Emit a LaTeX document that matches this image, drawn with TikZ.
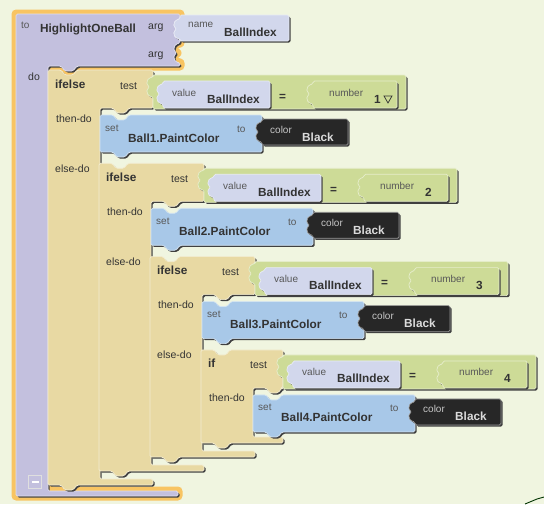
\documentclass[tikz,border=0pt]{standalone}
\usepackage{fontspec}
\setmainfont{Liberation Sans}
\usepackage{tikz}

\definecolor{bgC}{HTML}{F0F5E0}
\definecolor{haloC}{HTML}{F8C462}
\definecolor{procC}{HTML}{C3C0DE}
\definecolor{ctrlC}{HTML}{E8D9A3}
\definecolor{testC}{HTML}{CDDB97}
\definecolor{varC}{HTML}{D2D7EC}
\definecolor{setC}{HTML}{A8C8E8}
\definecolor{colorC}{HTML}{272727}
\definecolor{labC}{HTML}{333333}
\definecolor{tagC}{HTML}{585858}

\tikzset{
  notchin/.style={insert path={-- ++(13,0) -- ++(4,5) -- ++(8,0) -- ++(4,-5)}},
  tabout/.style={insert path={-- ++(-4,5) -- ++(-8,0) -- ++(-4,-5)}},
  plugL/.style={insert path={-- ++(-4,-1) -- ++(-2,-3) -- ++(0,-4) -- ++(3,-2) -- ++(-3,-2) -- ++(0,-4) -- ++(2,-3) -- ++(4,-1)}},
  sockR/.style={insert path={-- ++(-4,1) -- ++(-2,3) -- ++(0,4) -- ++(3,2) -- ++(-3,2) -- ++(0,4) -- ++(2,3) -- ++(4,1)}},
  lbl/.style={anchor=base west, inner sep=0pt, font=\fontsize{10.5}{12}\selectfont, text=labC},
  tag/.style={anchor=base west, inner sep=0pt, font=\fontsize{10}{12}\selectfont, text=tagC},
  ident/.style={anchor=base west, inner sep=0pt, font=\bfseries\fontsize{11.8}{13}\selectfont, text=labC},
  halo/.style={fill=haloC, draw=haloC, line width=9pt, line join=round},
}

% block outline with a dark drop edge
\newcommand{\piece}[3][]{%
  \path[#1] #3;
  \fill[black!75, rounded corners=1.5pt, shift={(1.6,1.6)}] #3;
  \filldraw[fill=#2, draw=#2!50!white, line width=0.7pt, rounded corners=1.5pt] #3;}

\begin{document}
\begin{tikzpicture}[x=1pt, y=-1pt]
    \fill[bgC] (0,0) rectangle (544,504);
    \useasboundingbox (0,0) rectangle (544,504);

    % procedure
    \piece[halo]{procC}{(16,14) -- (180,14) -- (180,19) [sockR] -- (180,43) [sockR] -- (180,66) -- (77,66) [tabout] -- (48,66) -- (48,491) -- (178,491) -- (178,496) -- (16,496) -- cycle}
    \node[tag] (totag) at (21,28.5) {to};
    \node[ident] (procname) at (40,32) {HighlightOneBall};
    \node[lbl] (arg1) at (148,29) {arg};
    \node[lbl] (arg2) at (148,57) {arg};
    \node[lbl] (dolbl) at (28,80) {do};

    \piece{varC}{(180,41) -- (180,39) [plugL] -- (180,15) -- (289,15) -- (289,41) -- cycle}
    \node[tag] (argtag) at (188,27) {name};
    \node[ident] (argname) at (224,36) {BallIndex};

    % nested tests
    \foreach \k/\hdw/\kw/\num in {0/105/ifelse/1, 1/105/ifelse/2, 2/105/ifelse/3, 3/82/if/4} {
        \pgfmathsetmacro{\colx}{48+51*\k}
        \pgfmathsetmacro{\rowy}{70+93.3*\k}
        \pgfmathsetmacro{\boty}{485-14*\k}
        \pgfmathsetmacro{\gx}{\colx+\hdw}
        \pgfmathsetmacro{\sx}{\colx+52}
        \pgfmathsetmacro{\rx}{\colx+214}

        \piece{ctrlC}{(\colx,\rowy) [notchin] -- (\gx,\rowy) -- (\gx,\rowy+38) -- (\colx+81,\rowy+38) [tabout] -- (\sx,\rowy+38) -- (\sx,\boty-6) -- (\gx,\boty-6) -- (\gx,\boty) -- (\colx+29,\boty) [tabout] -- (\colx,\boty) -- cycle}
        \node[ident] (kw\k) at (\colx+7,\rowy+18) {\kw};
        \node[lbl] (test\k) at (\gx-33,\rowy+19) {test};
        \node[lbl] (then\k) at (\colx+8,\rowy+52) {then-do};
        \ifnum\k<3 \node[lbl] (else\k) at (\colx+7,\rowy+102) {else-do}; \fi

        \piece{testC}{(\gx,\rowy+39) -- (\gx,\rowy+27) [plugL] -- (\gx,\rowy+5) -- (\gx+253,\rowy+5) -- (\gx+253,\rowy+39) -- cycle}
        \piece{varC}{(\gx+10,\rowy+38) -- (\gx+10,\rowy+34) [plugL] -- (\gx+10,\rowy+11) -- (\gx+117,\rowy+11) -- (\gx+117,\rowy+38) -- cycle}
        \piece{testC}{(\gx+160,\rowy+38) -- (\gx+160,\rowy+34) [plugL] -- (\gx+160,\rowy+11) -- (\gx+244,\rowy+11) -- (\gx+244,\rowy+38) -- cycle}
        \node[tag] (valtag\k) at (\gx+19,\rowy+26) {value};
        \node[ident] (var\k) at (\gx+54,\rowy+33) {BallIndex};
        \node[ident] (eq\k) at (\gx+126,\rowy+30) {=};
        \node[tag] (numtag\k) at (\gx+176,\rowy+26) {number};
        \node[ident] (num\k) at (\gx+221,\rowy+33) {\num};

        \piece{setC}{(\sx,\rowy+45) [notchin] -- (\rx,\rowy+45) -- (\rx,\rowy+52) [sockR] -- (\rx,\rowy+82) -- (\sx+29,\rowy+82) [tabout] -- (\sx,\rowy+82) -- cycle}
        \piece{colorC}{(\rx,\rowy+75) -- (\rx,\rowy+72) [plugL] -- (\rx,\rowy+49) -- (\rx+86,\rowy+49) -- (\rx+86,\rowy+75) -- cycle}
        \node[tag] (set\k) at (\sx+5,\rowy+61) {set};
        \node[ident] (prop\k) at (\sx+28,\rowy+72) {Ball\num.PaintColor};
        \node[tag] (to\k) at (\sx+137,\rowy+62) {to};
        \node[tag, text=white!78!black] (coltag\k) at (\sx+170,\rowy+63) {color};
        \node[ident, text=white!86!black] (col\k) at (\sx+202,\rowy+71) {Black};
    }
    % dropdown mark on the first number
    \draw[labC, line width=0.7pt] (384,96) -- (392,96) -- (388,103) -- cycle;

    % collapse button
    \node[draw=white!75!gray, fill=procC, minimum size=13pt, inner sep=0pt, line width=0.8pt] (collapse) at (35,482) {};
    \draw[white, line width=1.6pt] ([xshift=-3.5pt]collapse.center) -- ([xshift=3.5pt]collapse.center);

    % corner of the trash can
    \draw[green!20!black, line width=0.9pt] (525,504) -- (537,499) -- (544,497);
\end{tikzpicture}
\end{document}
